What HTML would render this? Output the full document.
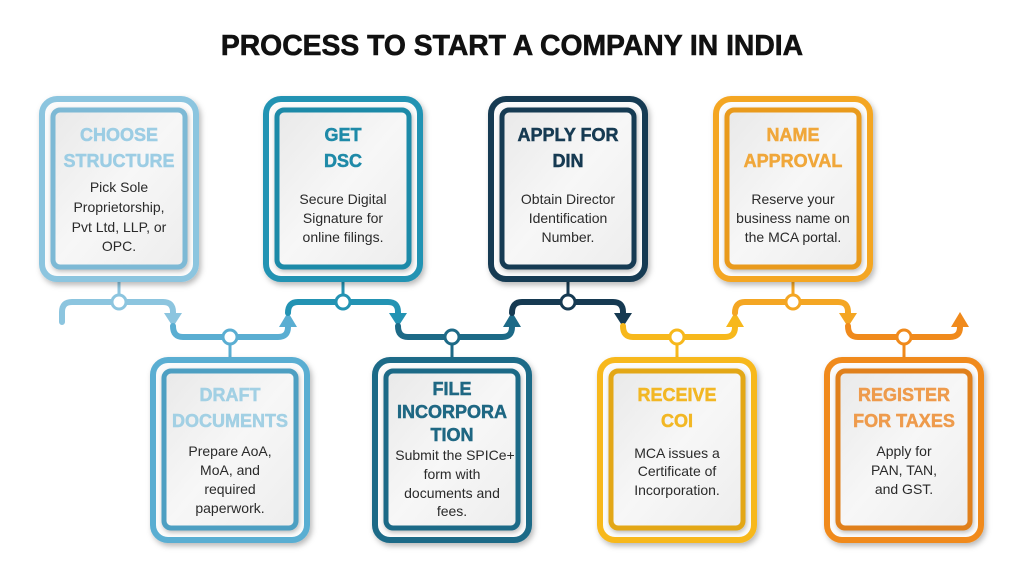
<!DOCTYPE html>
<html><head><meta charset="utf-8"><style>
html,body{margin:0;padding:0;background:#fff;}
svg{display:block;}
.t{font-family:"Liberation Sans",sans-serif;font-weight:bold;font-size:18px;text-anchor:middle;stroke-width:0.5px;}
.b{font-family:"Liberation Sans",sans-serif;font-size:14px;fill:#2a2a2a;text-anchor:middle;}
.trk{fill:none;stroke-width:6;stroke-linecap:round;stroke-linejoin:round;}
</style></head><body>
<svg width="1024" height="576" viewBox="0 0 1024 576" xmlns="http://www.w3.org/2000/svg">
<defs>
<filter id="sh" x="-20%" y="-20%" width="140%" height="140%"><feDropShadow dx="2" dy="3" stdDeviation="3" flood-color="#000" flood-opacity="0.28"/></filter>
<filter id="sh2" x="-20%" y="-20%" width="140%" height="140%"><feDropShadow dx="1" dy="2" stdDeviation="2" flood-color="#000" flood-opacity="0.25"/></filter>
<linearGradient id="g" x1="0" y1="0" x2="1" y2="1"><stop offset="0" stop-color="#e9e9e9"/><stop offset="0.5" stop-color="#f7f7f7"/><stop offset="1" stop-color="#ededed"/></linearGradient>
</defs>
<rect width="1024" height="576" fill="#fff"/>
<text x="512" y="55" style="font-family:'Liberation Sans',sans-serif;font-weight:bold;font-size:28.3px;text-anchor:middle;fill:#111;stroke:#111;stroke-width:0.6px;">PROCESS TO START A COMPANY IN INDIA</text>

<!-- track -->
<path class="trk" stroke="#8cc5df" d="M62,322 L62,312 Q62,302 72,302 L163,302 Q173,302 173,312 L173,315"/>
<polygon fill="#8cc5df" points="164,313 182,313 173,327"/>
<path class="trk" stroke="#5aaed2" d="M173,326 Q173,337 183,337 L278,337 Q288,337 288,327"/>
<polygon fill="#5aaed2" points="279,327 297,327 288,312"/>
<path class="trk" stroke="#2393b3" d="M288,313 Q288,302 298,302 L388,302 Q398,302 398,312 L398,315"/>
<polygon fill="#2393b3" points="389,313 407,313 398,327"/>
<path class="trk" stroke="#1d6a87" d="M398,326 Q398,337 408,337 L502,337 Q512,337 512,327"/>
<polygon fill="#1d6a87" points="503,327 521,327 512,312"/>
<path class="trk" stroke="#163a52" d="M512,313 Q512,302 522,302 L613,302 Q623,302 623,312 L623,315"/>
<polygon fill="#163a52" points="614,313 632,313 623,327"/>
<path class="trk" stroke="#f7b81c" d="M623,326 Q623,337 633,337 L725,337 Q735,337 735,327"/>
<polygon fill="#f7b81c" points="726,327 744,327 735,312"/>
<path class="trk" stroke="#f4a623" d="M735,313 Q735,302 745,302 L838,302 Q848,302 848,312 L848,315"/>
<polygon fill="#f4a623" points="839,313 857,313 848,327"/>
<path class="trk" stroke="#f08a1c" d="M848,326 Q848,337 858,337 L950,337 Q960,337 960,327"/>
<polygon fill="#f08a1c" points="951,327 969,327 960,312"/>

<!-- stems -->
<g stroke-width="3">
<line x1="119" y1="280" x2="119" y2="296" stroke="#8cc5df"/>
<line x1="343" y1="280" x2="343" y2="296" stroke="#2393b3"/>
<line x1="568" y1="280" x2="568" y2="296" stroke="#163a52"/>
<line x1="793" y1="280" x2="793" y2="296" stroke="#f4a623"/>
<line x1="230" y1="343" x2="230" y2="360" stroke="#5aaed2"/>
<line x1="452" y1="343" x2="452" y2="360" stroke="#1d6a87"/>
<line x1="677" y1="343" x2="677" y2="360" stroke="#f7b81c"/>
<line x1="904" y1="343" x2="904" y2="360" stroke="#f08a1c"/>
</g>
<g fill="#fff" stroke-width="3">
<circle cx="119" cy="302" r="7" stroke="#8cc5df"/>
<circle cx="343" cy="302" r="7" stroke="#2393b3"/>
<circle cx="568" cy="302" r="7" stroke="#163a52"/>
<circle cx="793" cy="302" r="7" stroke="#f4a623"/>
<circle cx="230" cy="337" r="7" stroke="#5aaed2"/>
<circle cx="452" cy="337" r="7" stroke="#1d6a87"/>
<circle cx="677" cy="337" r="7" stroke="#f7b81c"/>
<circle cx="904" cy="337" r="7" stroke="#f08a1c"/>
</g>

<!-- Card 1 -->
<g>
<rect x="42" y="99" width="154" height="180" rx="15" fill="#fbfbfb" stroke="#8cc5df" stroke-width="6" filter="url(#sh)"/>
<rect x="53" y="110" width="132" height="157" rx="7" fill="url(#g)" stroke="#7db9d5" stroke-width="5" filter="url(#sh2)"/>
<text class="t" x="119" y="141" fill="#9ccde4" stroke="#9ccde4">CHOOSE</text>
<text class="t" x="119" y="167" fill="#9ccde4" stroke="#9ccde4">STRUCTURE</text>
<text class="b" x="119" y="192">Pick Sole</text>
<text class="b" x="119" y="212">Proprietorship,</text>
<text class="b" x="119" y="232">Pvt Ltd, LLP, or</text>
<text class="b" x="119" y="251">OPC.</text>
</g>
<!-- Card GET DSC -->
<g>
<rect x="266" y="99" width="154" height="180" rx="15" fill="#fbfbfb" stroke="#2393b3" stroke-width="6" filter="url(#sh)"/>
<rect x="277" y="110" width="132" height="157" rx="7" fill="url(#g)" stroke="#1f8aa8" stroke-width="5" filter="url(#sh2)"/>
<text class="t" x="343" y="141" fill="#1f8aa8" stroke="#1f8aa8">GET</text>
<text class="t" x="343" y="167" fill="#1f8aa8" stroke="#1f8aa8">DSC</text>
<text class="b" x="343" y="204">Secure Digital</text>
<text class="b" x="343" y="223">Signature for</text>
<text class="b" x="343" y="242">online filings.</text>
</g>
<!-- Card DIN -->
<g>
<rect x="491" y="99" width="154" height="180" rx="15" fill="#fbfbfb" stroke="#163a52" stroke-width="6" filter="url(#sh)"/>
<rect x="502" y="110" width="132" height="157" rx="7" fill="url(#g)" stroke="#163a52" stroke-width="5" filter="url(#sh2)"/>
<text class="t" x="568" y="141" fill="#163a52" stroke="#163a52">APPLY FOR</text>
<text class="t" x="568" y="167" fill="#163a52" stroke="#163a52">DIN</text>
<text class="b" x="568" y="204">Obtain Director</text>
<text class="b" x="568" y="223">Identification</text>
<text class="b" x="568" y="242">Number.</text>
</g>
<!-- Card NAME -->
<g>
<rect x="716" y="99" width="154" height="180" rx="15" fill="#fbfbfb" stroke="#f4a623" stroke-width="6" filter="url(#sh)"/>
<rect x="727" y="110" width="132" height="157" rx="7" fill="url(#g)" stroke="#e99a1f" stroke-width="5" filter="url(#sh2)"/>
<text class="t" x="793" y="141" fill="#f0a73a" stroke="#f0a73a">NAME</text>
<text class="t" x="793" y="167" fill="#f0a73a" stroke="#f0a73a">APPROVAL</text>
<text class="b" x="793" y="204">Reserve your</text>
<text class="b" x="793" y="223">business name on</text>
<text class="b" x="793" y="242">the MCA portal.</text>
</g>
<!-- Card DRAFT -->
<g>
<rect x="153" y="360" width="154" height="180" rx="15" fill="#fbfbfb" stroke="#5aaed2" stroke-width="6" filter="url(#sh)"/>
<rect x="164" y="371" width="132" height="157" rx="7" fill="url(#g)" stroke="#4d9fc2" stroke-width="5" filter="url(#sh2)"/>
<text class="t" x="230" y="401" fill="#a2d0e4" stroke="#a2d0e4">DRAFT</text>
<text class="t" x="230" y="427" fill="#a2d0e4" stroke="#a2d0e4">DOCUMENTS</text>
<text class="b" x="230" y="456">Prepare AoA,</text>
<text class="b" x="230" y="475">MoA, and</text>
<text class="b" x="230" y="494">required</text>
<text class="b" x="230" y="513">paperwork.</text>
</g>
<!-- Card FILE -->
<g>
<rect x="375" y="360" width="154" height="180" rx="15" fill="#fbfbfb" stroke="#1d6a87" stroke-width="6" filter="url(#sh)"/>
<rect x="386" y="371" width="132" height="157" rx="7" fill="url(#g)" stroke="#1d6a87" stroke-width="5" filter="url(#sh2)"/>
<text class="t" x="452" y="395" fill="#1e6783" stroke="#1e6783">FILE</text>
<text class="t" x="452" y="418" fill="#1e6783" stroke="#1e6783">INCORPORA</text>
<text class="t" x="452" y="441" fill="#1e6783" stroke="#1e6783">TION</text>
<text class="b" x="455" y="460">Submit the SPICe+</text>
<text class="b" x="452" y="479">form with</text>
<text class="b" x="452" y="498">documents and</text>
<text class="b" x="452" y="516">fees.</text>
</g>
<!-- Card RECEIVE -->
<g>
<rect x="600" y="360" width="154" height="180" rx="15" fill="#fbfbfb" stroke="#f7b81c" stroke-width="6" filter="url(#sh)"/>
<rect x="611" y="371" width="132" height="157" rx="7" fill="url(#g)" stroke="#e3a718" stroke-width="5" filter="url(#sh2)"/>
<text class="t" x="677" y="401" fill="#f2b724" stroke="#f2b724">RECEIVE</text>
<text class="t" x="677" y="427" fill="#f2b724" stroke="#f2b724">COI</text>
<text class="b" x="677" y="458">MCA issues a</text>
<text class="b" x="677" y="476">Certificate of</text>
<text class="b" x="677" y="495">Incorporation.</text>
</g>
<!-- Card REGISTER -->
<g>
<rect x="827" y="360" width="154" height="180" rx="15" fill="#fbfbfb" stroke="#f08a1c" stroke-width="6" filter="url(#sh)"/>
<rect x="838" y="371" width="132" height="157" rx="7" fill="url(#g)" stroke="#e0801f" stroke-width="5" filter="url(#sh2)"/>
<text class="t" x="904" y="401" fill="#ee9b4c" stroke="#ee9b4c">REGISTER</text>
<text class="t" x="904" y="427" fill="#ee9b4c" stroke="#ee9b4c">FOR TAXES</text>
<text class="b" x="904" y="456">Apply for</text>
<text class="b" x="904" y="475">PAN, TAN,</text>
<text class="b" x="904" y="494">and GST.</text>
</g>
</svg>
</body></html>
